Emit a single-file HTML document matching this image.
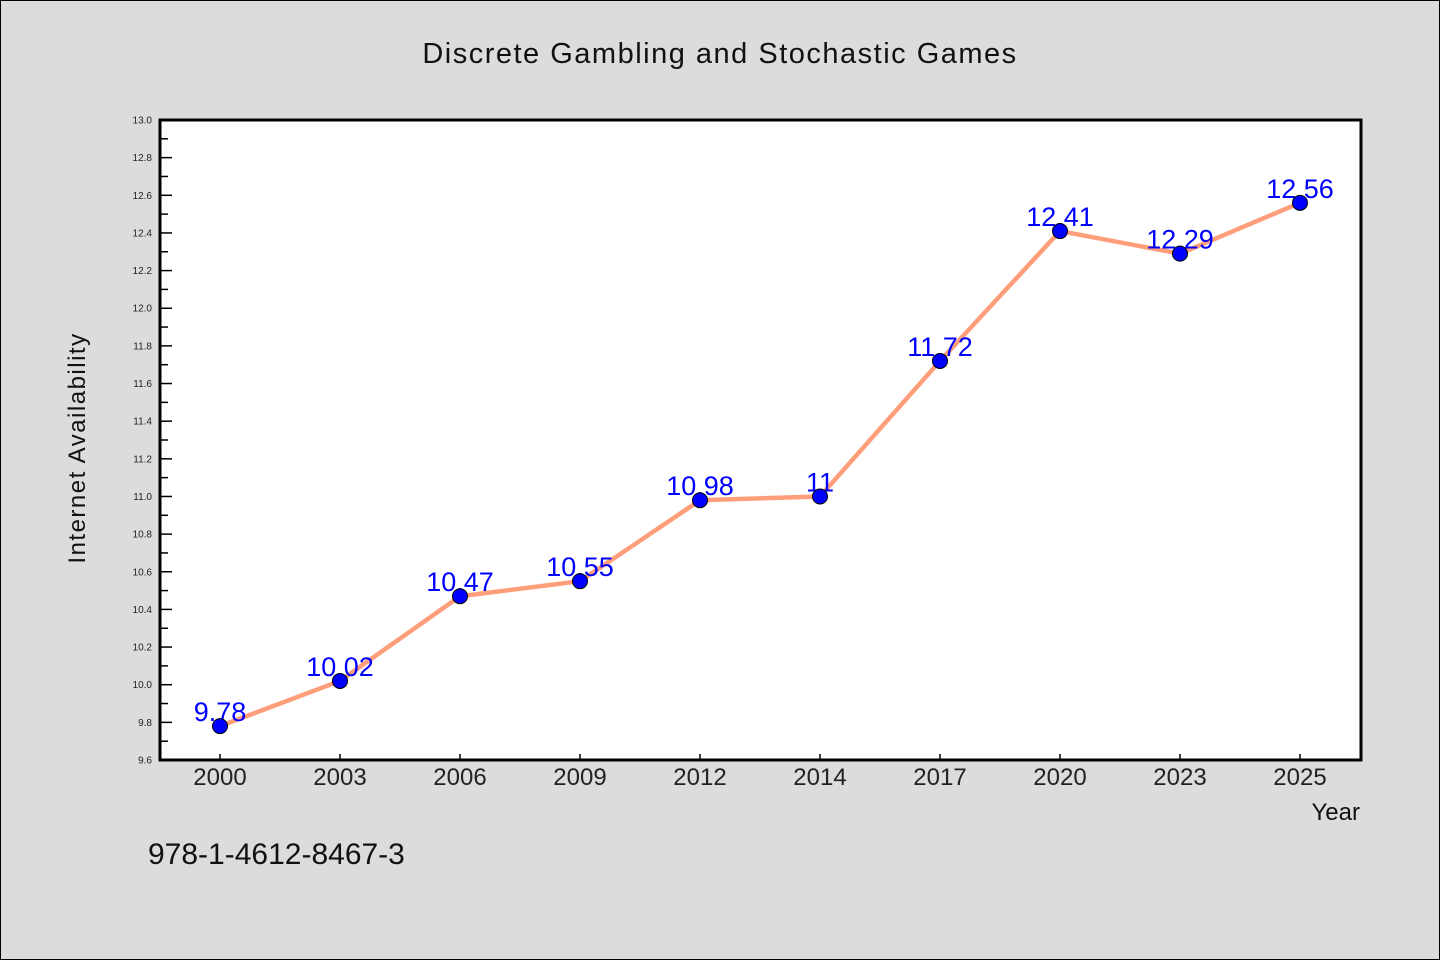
<!DOCTYPE html>
<html><head><meta charset="utf-8"><style>
html,body{margin:0;padding:0;background:#dcdcdc}
svg{display:block;font-family:"WenQuanYi Zen Hei","Liberation Sans",sans-serif}
</style></head><body>
<svg id="chart" width="1440" height="960" viewBox="0 0 1440 960">
<rect x="0.5" y="0.5" width="1439" height="959" fill="#dcdcdc" stroke="#000"/>
<text x="720" y="63" text-anchor="middle" font-size="29" letter-spacing="1.5" fill="#111">Discrete Gambling and Stochastic Games</text>
<rect x="160" y="120" width="1201" height="640" fill="#fff"/>
<g id="yaxis"></g>
<g id="xaxis"></g>
<g id="series"></g>
<rect x="160" y="120" width="1201" height="640" fill="none" stroke="#000" stroke-width="3"/>
<text transform="translate(85,448) rotate(-90)" text-anchor="middle" font-size="24" letter-spacing="1.5" fill="#111">Internet Availability</text>
<text x="1360" y="820" text-anchor="end" font-size="24" fill="#111">Year</text>
<text x="148" y="864" font-size="30" fill="#111">978-1-4612-8467-3</text>
</svg>
<script>
const categories=["2000","2003","2006","2009","2012","2014","2017","2020","2023","2025"];
const values=[9.78,10.02,10.47,10.55,10.98,11,11.72,12.41,12.29,12.56];
const labels=["9.78","10.02","10.47","10.55","10.98","11","11.72","12.41","12.29","12.56"];
const yTicks=[9.6,9.8,10.0,10.2,10.4,10.6,10.8,11.0,11.2,11.4,11.6,11.8,12.0,12.2,12.4,12.6,12.8,13.0];
const NS="http://www.w3.org/2000/svg";
const L=160,R=1361,T=120,B=760,ymin=9.6,ymax=13.0;
const y=v=>B-(v-ymin)/(ymax-ymin)*(B-T);
const x=i=>220+i*(1300-220)/(categories.length-1);
function mk(t,a,p){const e=document.createElementNS(NS,t);for(const k in a)e.setAttribute(k,a[k]);p.appendChild(e);return e;}
const ya=document.getElementById('yaxis'),xa=document.getElementById('xaxis'),se=document.getElementById('series');
yTicks.forEach((v,i)=>{
  const t=mk('line',{x1:L,x2:L+12,y1:y(v),y2:y(v),stroke:'#000','stroke-width':1.5},ya);
  
  
  const lb=mk('text',{x:L-8,y:y(v)+3.5,'text-anchor':'end','font-size':10,fill:'#222'},ya);
  lb.textContent=v.toFixed(1);
  
  
  if(i<yTicks.length-1){
    const mv=(v+yTicks[i+1])/2;
    const m=mk('line',{x1:L,x2:L+8,y1:y(mv),y2:y(mv),stroke:'#000','stroke-width':1.5},ya);
    
    
  }
});
categories.forEach((c,i)=>{
  const t=mk('line',{x1:x(i),x2:x(i),y1:B,y2:B-6,stroke:'#000','stroke-width':1.5},xa);
  
  
  const lb=mk('text',{x:x(i),y:785,'text-anchor':'middle','font-size':24,fill:'#222'},xa);
  lb.textContent=c;
  
  
});
const line=mk('polyline',{points:values.map((v,i)=>x(i)+','+y(v)).join(' '),fill:'none',stroke:'#ff9e7a','stroke-width':4.5,'stroke-linejoin':'round'},se);


values.forEach((v,i)=>{
  const lb=mk('text',{x:x(i),y:y(v)-5,'text-anchor':'middle','font-size':27,fill:'#0000ff'},se);
  lb.textContent=labels[i];
  
  
});
values.forEach((v,i)=>{
  const p=mk('circle',{cx:x(i),cy:y(v),r:7.5,fill:'#0000ff',stroke:'#000','stroke-width':1},se);
  
  
});
</script>
</body></html>
